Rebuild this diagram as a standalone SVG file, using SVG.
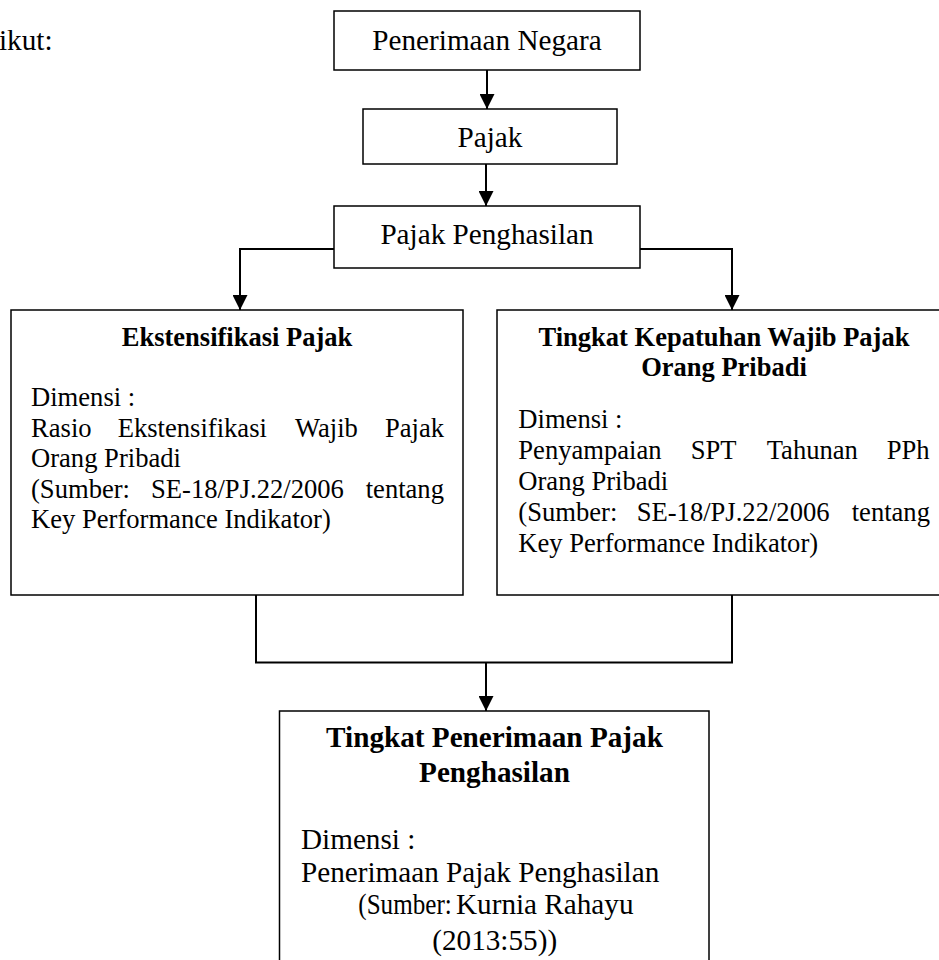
<svg xmlns="http://www.w3.org/2000/svg" width="939" height="960" viewBox="0 0 939 960">
<defs>
<marker id="ah" viewBox="0 0 15 15" refX="15" refY="7.5" markerWidth="15" markerHeight="15" markerUnits="userSpaceOnUse" orient="auto">
<path d="M0,0 L15,7.5 L0,15 Z" fill="#000"/>
</marker>
<style>
text{font-family:"Liberation Serif","Times New Roman",serif;fill:#000}
.big{font-size:29.2px}
.body{font-size:26.6px}
.tb{font-size:26.5px;font-weight:bold}
.bb{font-size:29.2px;font-weight:bold}
.c{text-anchor:middle}
.box{fill:#fff;stroke:#000;stroke-width:1.5}
.con{fill:none;stroke:#000;stroke-width:2}
</style>
</defs>
<rect width="939" height="960" fill="#fff"/>
<text class="big" x="-1" y="50">ikut:</text>

<g id="connectors">
<path class="con" d="M487,70 V109" marker-end="url(#ah)"/>
<path class="con" d="M486,164 V206" marker-end="url(#ah)"/>
<path class="con" d="M334,249 H240 V310" marker-end="url(#ah)"/>
<path class="con" d="M640,249 H732 V310" marker-end="url(#ah)"/>
<path class="con" d="M256,595 V662.5 H732 V595"/>
<path class="con" d="M486,662.5 V711" marker-end="url(#ah)"/>
</g>

<g id="penerimaan-negara">
<rect class="box" x="334" y="11" width="306" height="59"/>
<text class="big c" x="487" y="50">Penerimaan Negara</text>
</g>

<g id="pajak">
<rect class="box" x="363" y="109" width="254" height="55"/>
<text class="big c" x="490" y="146.5">Pajak</text>
</g>

<g id="pajak-penghasilan">
<rect class="box" x="334" y="206" width="306" height="62"/>
<text class="big c" x="487" y="243.5">Pajak Penghasilan</text>
</g>

<g id="ekstensifikasi">
<rect class="box" x="11" y="310" width="452" height="285"/>
<text class="tb c" x="237" y="345.7">Ekstensifikasi Pajak</text>
<text class="body" x="31" y="406">Dimensi :</text>
<text class="body" y="436.6"><tspan x="31">Rasio</tspan><tspan x="117.7">Ekstensifikasi</tspan><tspan x="295">Wajib</tspan><tspan x="385">Pajak</tspan></text>
<text class="body" x="31" y="467.2">Orang Pribadi</text>
<text class="body" y="497.8"><tspan x="31">(Sumber:</tspan><tspan x="151">SE-18/PJ.22/2006</tspan><tspan x="365.7">tentang</tspan></text>
<text class="body" x="31" y="528.4">Key Performance Indikator)</text>
</g>

<g id="kepatuhan">
<rect class="box" x="497" y="310" width="452" height="285"/>
<text class="tb c" x="724" y="345.7">Tingkat Kepatuhan Wajib Pajak</text>
<text class="tb c" x="724" y="375.7">Orang Pribadi</text>
<text class="body" x="518.3" y="428.3">Dimensi :</text>
<text class="body" y="459.2"><tspan x="518.3">Penyampaian</tspan><tspan x="690.7">SPT</tspan><tspan x="766.7">Tahunan</tspan><tspan x="886.7">PPh</tspan></text>
<text class="body" x="518.3" y="490">Orang Pribadi</text>
<text class="body" y="520.8"><tspan x="518.3">(Sumber:</tspan><tspan x="636.7">SE-18/PJ.22/2006</tspan><tspan x="851.7">tentang</tspan></text>
<text class="body" x="518.3" y="551.6">Key Performance Indikator)</text>
</g>

<g id="penerimaan-pph">
<rect class="box" x="279.5" y="711" width="429.5" height="260"/>
<text class="bb c" x="494.5" y="746.7">Tingkat Penerimaan Pajak</text>
<text class="bb c" x="494.5" y="781.7">Penghasilan</text>
<text class="big" x="301" y="849.3">Dimensi :</text>
<text class="big" x="301" y="881.7">Penerimaan Pajak Penghasilan</text>
<text class="big" transform="translate(358.3,914.3) scale(0.86,1)">(Sumber:</text>
<text class="big" x="456" y="914.3">Kurnia Rahayu</text>
<text class="big c" x="494.7" y="950">(2013:55))</text>
</g>
</svg>
